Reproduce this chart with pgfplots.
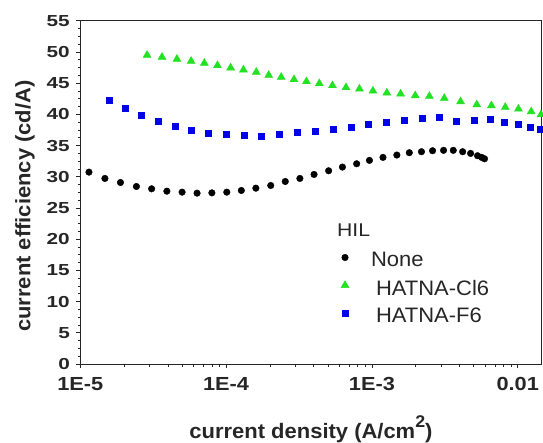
\documentclass[border=0pt]{standalone}
\usepackage{fontspec}
\setmainfont{Liberation Sans}
\newfontfamily\ytickfont{Liberation Sans}[FakeStretch=1.3]
\newfontfamily\xtickfont{Liberation Sans}[FakeStretch=1.15]
\newfontfamily\labelfont{Liberation Sans}[FakeStretch=1.05]
\newfontfamily\hilfont{Liberation Sans}[FakeStretch=1.15]
\usepackage{pgfplots}
\pgfplotsset{compat=1.18}
\definecolor{cgreen}{RGB}{35,225,35}
\definecolor{cblue}{RGB}{0,0,230}

\begin{document}
\begin{tikzpicture}
\useasboundingbox (-80.3bp,-79bp) rectangle (462.7bp,364bp);
\begin{axis}[
    at={(0,0)}, anchor=south west,
    scale only axis, width=461.4bp, height=343.3bp,
    xmode=log, xmin=1e-5, xmax=0.0146,
    ymin=0, ymax=55,
    xtick={1e-5,1e-4,1e-3,1e-2},
    xticklabels={1E-5,1E-4,1E-3,0.01},
    minor xtick={2e-5,3e-5,4e-5,5e-5,6e-5,7e-5,8e-5,9e-5,
                 2e-4,3e-4,4e-4,5e-4,6e-4,7e-4,8e-4,9e-4,
                 2e-3,3e-3,4e-3,5e-3,6e-3,7e-3,8e-3,9e-3},
    ytick={0,5,...,55},
    minor y tick num=3,
    tick align=outside, tick pos=left,
    major tick length=4bp, minor tick length=2.5bp,
    axis line style={line width=0.8bp, black!85},
    every tick/.style={line width=0.8bp, black!85},
    /pgf/number format/assume math mode=true,
    yticklabel style={font=\ytickfont\bfseries\fontsize{16}{16}\selectfont,
        text=black!85, xshift=-3bp},
    xticklabel style={font=\xtickfont\bfseries\fontsize{19}{19}\selectfont,
        text=black!85, yshift=-6bp},
    xlabel={current density (A/cm\raisebox{0.5em}{\fontsize{17}{17}\selectfont 2})},
    ylabel={current efficiency (cd/A)},
    xlabel style={font=\labelfont\bfseries\fontsize{21}{21}\selectfont, text=black!85,
        at={(axis description cs:0.5,-0.2164)}, anchor=base},
    ylabel style={font=\labelfont\bfseries\fontsize{21}{21}\selectfont, text=black!85,
        at={(axis description cs:-0.12,0.46)}, anchor=center},
    legend cell align=left,
    legend style={at={(rel axis cs:0.5647,0.331)}, anchor=north west,
        draw=none, fill=none, inner sep=0pt, row sep=7.5bp,
        font=\labelfont\fontsize{21}{21}\selectfont, text=black!85},
    legend image code/.code={\draw[mark repeat=2,mark phase=2,#1]
        plot coordinates {(0bp,3bp) (8bp,3bp) (16bp,3bp)};},
]
% None
\addplot[only marks, mark=*, mark size=3.3bp, black] coordinates {
(1.147e-5,30.74) (1.475e-5,29.73) (1.886e-5,29.08) (2.426e-5,28.44)
(3.085e-5,28.07) (3.925e-5,27.69) (4.99e-5,27.53) (6.32e-5,27.37)
(7.99e-5,27.42) (1.011e-4,27.53) (1.272e-4,27.80) (1.6e-4,28.17)
(2.024e-4,28.60) (2.546e-4,29.24) (3.206e-4,29.73) (4.009e-4,30.37)
(5.047e-4,30.96) (6.28e-4,31.55) (7.86e-4,32.08) (9.62e-4,32.62)
(1.191e-3,33.10) (1.483e-3,33.48) (1.805e-3,33.85) (2.187e-3,34.01)
(2.605e-3,34.17) (3.1e-3,34.23) (3.614e-3,34.23) (4.19e-3,34.01)
(4.75e-3,33.74) (5.30e-3,33.37) (5.66e-3,33.10) (5.92e-3,32.88)
};
\addlegendentry{\hspace{20bp}None}
% HATNA-Cl6
\addplot[only marks, mark=triangle*, mark size=4.6bp, cgreen] coordinates {
(2.873e-5,49.49) (3.636e-5,49.17) (4.60e-5,48.85) (5.755e-5,48.53)
(7.09e-5,48.21) (8.72e-5,47.83) (1.074e-4,47.46) (1.315e-4,47.13)
(1.61e-4,46.76) (1.96e-4,46.28) (2.387e-4,45.96) (2.92e-4,45.58)
(3.556e-4,45.26) (4.355e-4,44.94) (5.36e-4,44.62) (6.64e-4,44.30)
(8.21e-4,44.08) (1.016e-3,43.76) (1.265e-3,43.44) (1.573e-3,43.28)
(1.982e-3,43.01) (2.477e-3,42.90) (3.135e-3,42.58) (4.055e-3,42.05)
(5.24e-3,41.56) (6.60e-3,41.40) (8.21e-3,41.14) (1.011e-2,40.87)
(1.237e-2,40.44) (1.443e-2,39.96)
};
\addlegendentry{\hspace{25bp}HATNA-Cl6}
% HATNA-F6
\addplot[only marks, mark=square*, mark size=3bp, cblue] coordinates {
(1.574e-5,42.26) (2.047e-5,40.92) (2.618e-5,39.80) (3.42e-5,38.94)
(4.475e-5,38.08) (5.72e-5,37.44) (7.56e-5,37.01) (9.94e-5,36.74)
(1.321e-4,36.58) (1.747e-4,36.53) (2.32e-4,36.74) (3.07e-4,37.06)
(4.055e-4,37.23) (5.39e-4,37.60) (7.16e-4,37.98) (9.46e-4,38.46)
(1.259e-3,38.78) (1.664e-3,39.10) (2.198e-3,39.37) (2.89e-3,39.53)
(3.80e-3,38.94) (4.99e-3,39.10) (6.49e-3,39.15) (8.13e-3,38.78)
(1.0e-2,38.46) (1.217e-2,37.98) (1.419e-2,37.60)
};
\addlegendentry{\hspace{25bp}HATNA-F6}
\node[anchor=base west, inner sep=0pt, text=black!85,
      font=\hilfont\fontsize{18.5}{18.5}\selectfont]
      at (rel axis cs:0.5563,0.3708) {HIL};
\end{axis}
\end{tikzpicture}
\end{document}
